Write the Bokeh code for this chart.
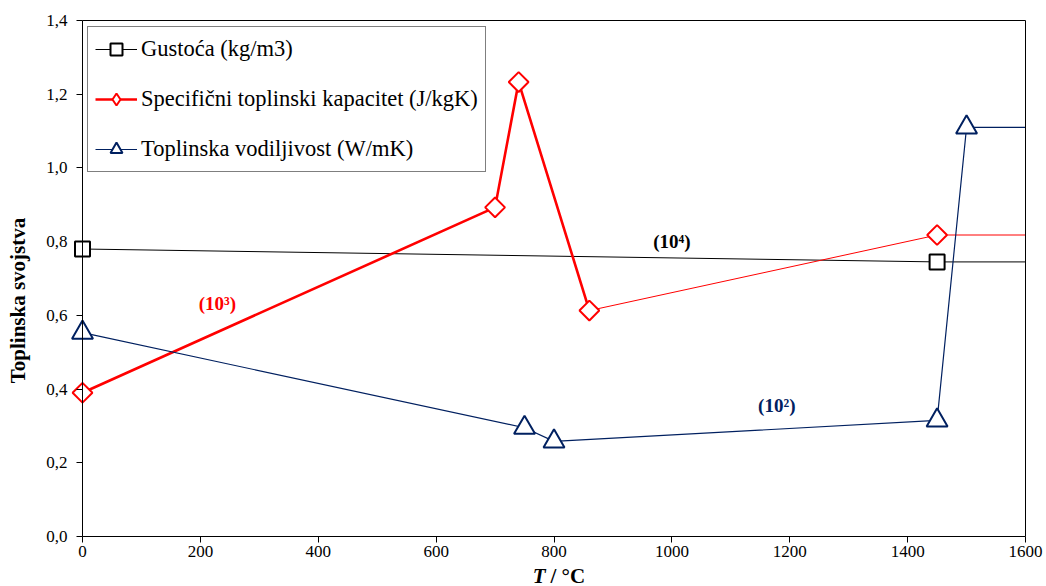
import math
from bokeh.plotting import figure
from bokeh.models import (Range1d, FixedTicker, CustomJSTickFormatter, Legend, LegendItem,
                          Label, LinearAxis, ColumnDataSource)
from bokeh.embed import file_html
from bokeh.resources import INLINE

# ---------------- Data ----------------
rho_T = [0, 1450, 1600]
rho_v = [0.78, 0.745, 0.745]
rho_mark_n = 2

cp_T = [0, 700, 740, 860, 1450, 1600]
cp_v = [0.39, 0.893, 1.233, 0.613, 0.818, 0.818]
cp_mark_n = 5
cp_thick_n = 4

k_T = [0, 750, 800, 1450, 1500, 1600]
k_v = [0.553, 0.295, 0.258, 0.315, 1.11, 1.11]
k_mark_n = 5

x_ticks = [0, 200, 400, 600, 800, 1000, 1200, 1400, 1600]
y_ticks = [0.0, 0.2, 0.4, 0.6, 0.8, 1.0, 1.2, 1.4]
x_min, x_max = 0, 1600
y_min, y_max = 0.0, 1.4

labels = ["Gustoća (kg/m3)", "Specifični toplinski kapacitet (J/kgK)", "Toplinska vodiljivost (W/mK)"]
ann_text = ["(10⁴)", "(10³)", "(10²)"]
ann_x = [1000, 229, 1178]
ann_y = [0.80, 0.632, 0.355]

# ---------------- Layout (pixels) ----------------
W, H = 1046, 586
AX_L, AX_R = 82, 1025      # pixel x of x_min / x_max
AX_T, AX_B = 20, 536       # pixel y of y_max / y_min
xs = (AX_R - AX_L) / (x_max - x_min)
ys = (AX_B - AX_T) / (y_max - y_min)
x_range = Range1d(x_min - AX_L / xs, x_max + (W - AX_R) / xs)
y_range = Range1d(y_min - (H - AX_B) / ys, y_max + AX_T / ys)

BLACK = "#000000"
RED = "#FF0000"
NAVY = "#002060"
FONT = "Liberation Serif"

p = figure(width=W, height=H, output_backend="svg", toolbar_location=None,
           x_range=x_range, y_range=y_range,
           min_border_left=0, min_border_right=0, min_border_top=0, min_border_bottom=0)
p.xgrid.visible = False
p.ygrid.visible = False
p.outline_line_color = None
p.background_fill_color = "white"
p.border_fill_color = "white"

xa = p.xaxis[0]
ya = p.yaxis[0]
xa.fixed_location = y_min
ya.fixed_location = x_min
xa.bounds = (x_min, x_max)
ya.bounds = (y_min, y_max)
for ax in (xa, ya):
    ax.axis_line_color = "black"
    ax.axis_line_width = 1
    ax.major_tick_in = 0
    ax.major_tick_out = 6
    ax.minor_tick_in = 0
    ax.minor_tick_out = 4
    ax.major_tick_line_color = "black"
    ax.minor_tick_line_color = "black"
    ax.major_label_text_font = FONT
    ax.major_label_text_font_size = "17px"
    ax.major_label_text_color = "black"

xa.ticker = FixedTicker(ticks=x_ticks, num_minor_ticks=5)
ya.ticker = FixedTicker(ticks=y_ticks, num_minor_ticks=5)
xa.major_label_standoff = 3
ya.major_label_standoff = 9
ya.formatter = CustomJSTickFormatter(code="return tick.toFixed(1).replace('.', ',');")

# frame border lines (top / right)
top_ax = LinearAxis(fixed_location=y_max, bounds=(x_min, x_max), ticker=FixedTicker(ticks=[]),
                    major_tick_line_color=None, minor_tick_line_color=None,
                    major_label_text_alpha=0, axis_line_color="black")
right_ax = LinearAxis(fixed_location=x_max, bounds=(y_min, y_max), ticker=FixedTicker(ticks=[]),
                      major_tick_line_color=None, minor_tick_line_color=None,
                      major_label_text_alpha=0, axis_line_color="black")
p.add_layout(top_ax, "above")
p.add_layout(right_ax, "right")

# ---------------- Series ----------------
l1 = p.line(rho_T, rho_v, line_color=BLACK, line_width=1)
m1 = p.scatter(rho_T[:rho_mark_n], rho_v[:rho_mark_n], marker="square", size=15,
               fill_color="white", line_color=BLACK, line_width=2)

l2a = p.line(cp_T[:cp_thick_n], cp_v[:cp_thick_n], line_color=RED, line_width=2.6)
l2b = p.line(cp_T[cp_thick_n - 1:], cp_v[cp_thick_n - 1:], line_color=RED, line_width=1)
cp_src = ColumnDataSource(dict(x=cp_T[:cp_mark_n], y=cp_v[:cp_mark_n]))
# diamond symbol used for the legend (hidden beneath the rotated squares in the plot)
m2_leg = p.scatter("x", "y", source=cp_src, marker="diamond", size=12,
                   fill_color="white", line_color=RED, line_width=2)
m2 = p.scatter("x", "y", source=cp_src, marker="square", angle=math.pi / 4,
               size=14, fill_color="white", line_color=RED, line_width=2)

l3 = p.line(k_T, k_v, line_color=NAVY, line_width=1.2)
m3 = p.scatter(k_T[:k_mark_n], k_v[:k_mark_n], marker="triangle", size=21,
               fill_color="white", line_color=NAVY, line_width=2)

legend = Legend(items=[LegendItem(label=labels[0], renderers=[l1, m1]),
                       LegendItem(label=labels[1], renderers=[l2a, m2_leg]),
                       LegendItem(label=labels[2], renderers=[l3, m3])],
                location=(AX_L + 5, H - 172), margin=0, padding=7, spacing=20,
                glyph_width=42, glyph_height=30, label_standoff=4,
                label_text_font=FONT, label_text_font_size="22.5px", label_text_color="black",
                border_line_color="black", border_line_width=1,
                background_fill_alpha=1.0)
p.add_layout(legend)

ann_colors = [BLACK, RED, NAVY]
for t, x, y, c in zip(ann_text, ann_x, ann_y, ann_colors):
    p.add_layout(Label(x=x, y=y, text=t, text_font=FONT, text_font_style="bold",
                       text_font_size="19px", text_color=c, text_align="center",
                       text_baseline="middle"))

# axis titles
p.add_layout(Label(x=17, y=H - 300, x_units="screen", y_units="screen", text="Toplinska svojstva",
                   angle=math.pi / 2, text_font=FONT, text_font_style="bold", text_color="black",
                   text_font_size="21px", text_align="center", text_baseline="middle"))
p.add_layout(Label(x=545, y=H - 575, x_units="screen", y_units="screen", text="T",
                   text_font=FONT, text_font_style="bold italic", text_font_size="21px",
                   text_color="black", text_align="right", text_baseline="alphabetic"))
p.add_layout(Label(x=550, y=H - 575, x_units="screen", y_units="screen", text="/ °C",
                   text_font=FONT, text_font_style="bold", text_font_size="21px",
                   text_color="black", text_align="left", text_baseline="alphabetic"))

open("out.html", "w").write(file_html(p, INLINE))
